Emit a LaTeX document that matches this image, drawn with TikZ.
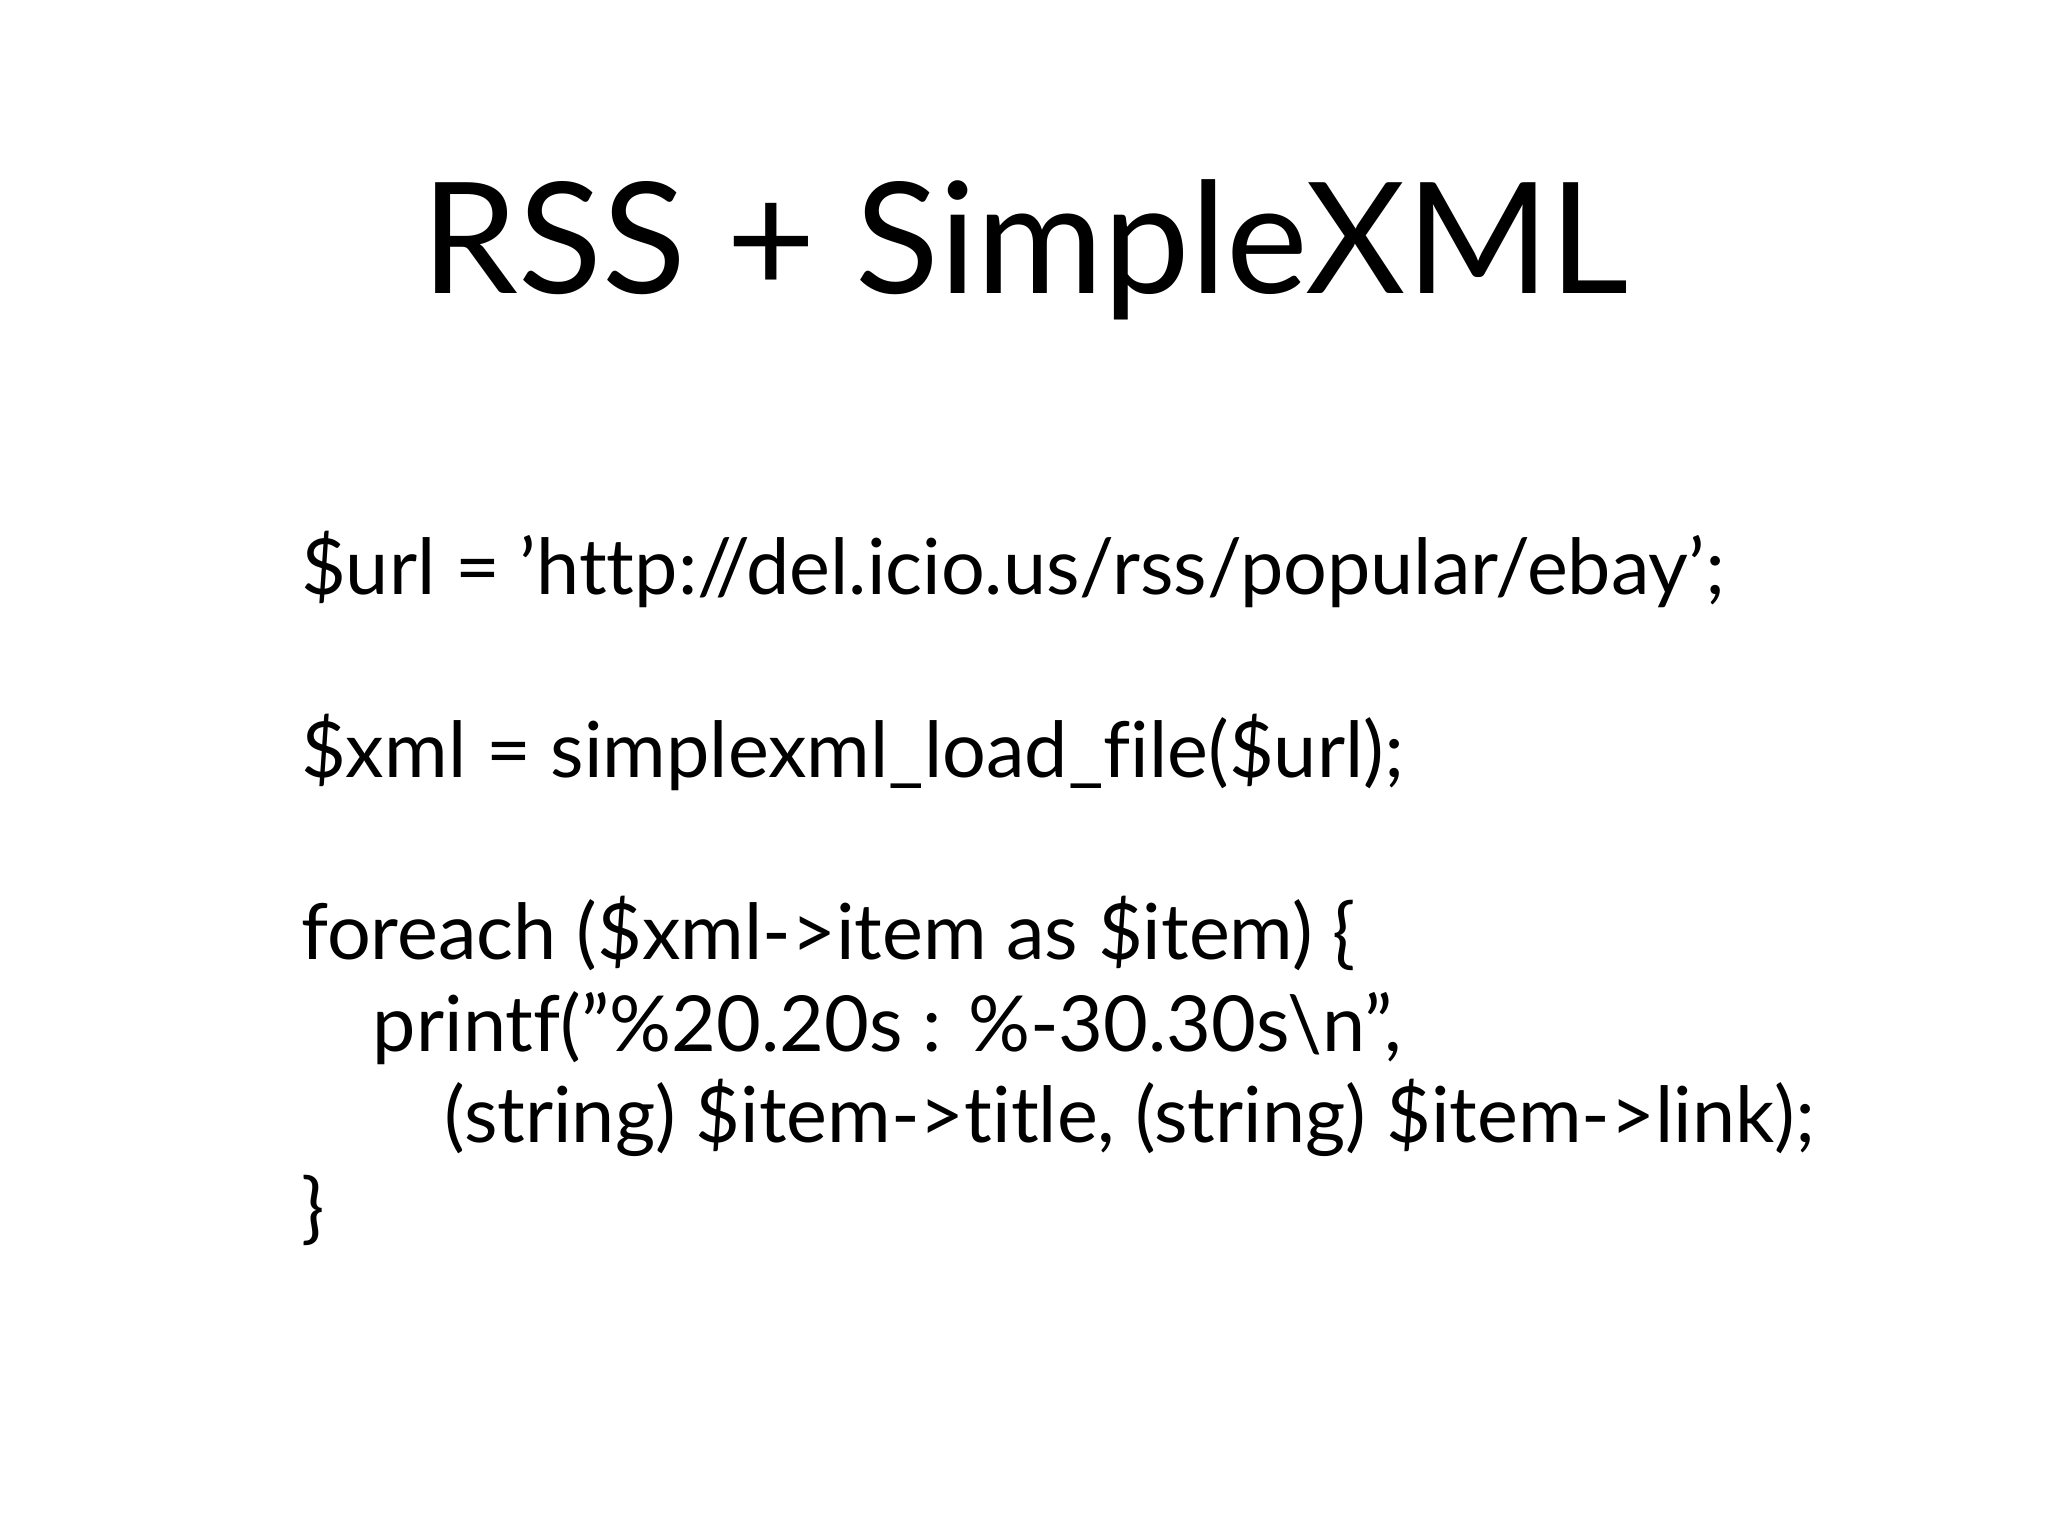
\documentclass[tikz,border=0pt]{standalone}
\usepackage{fontspec}
\setmainfont{Lato}[Ligatures=NoCommon]
\newcommand{\sq}{\symbol{"27}}
\newcommand{\dq}{\symbol{"22}}
\begin{document}
\begin{tikzpicture}[x=0.013061cm,y=-0.013061cm,
  code/.style={anchor=base west,inner sep=0pt,font=\fontsize{22}{26}\selectfont},
  ttl/.style={anchor=base,inner sep=0pt,font=\fontsize{44}{50}\selectfont}]
\useasboundingbox (0,0) rectangle (1568,1176);
\node[ttl] (title) at (785,225) {RSS + SimpleXML};
\node[code] (l1) at (230,455) {\$url = \sq http://del.icio.us/rss/popular/ebay\sq;};
\node[code] (l2) at (230,595) {\$xml = simplexml\_load\_file(\$url);};
\node[code] (l3) at (230,735) {foreach (\$xml->item as \$item) \{};
\node[code] (l4) at (285,805) {printf(\dq\%20.20s : \%-30.30s\textbackslash n\dq,};
\node[code] (l5) at (340,875) {(string) \$item->title, (string) \$item->link);};
\node[code] (l6) at (230,945) {\}};
\end{tikzpicture}
\end{document}
